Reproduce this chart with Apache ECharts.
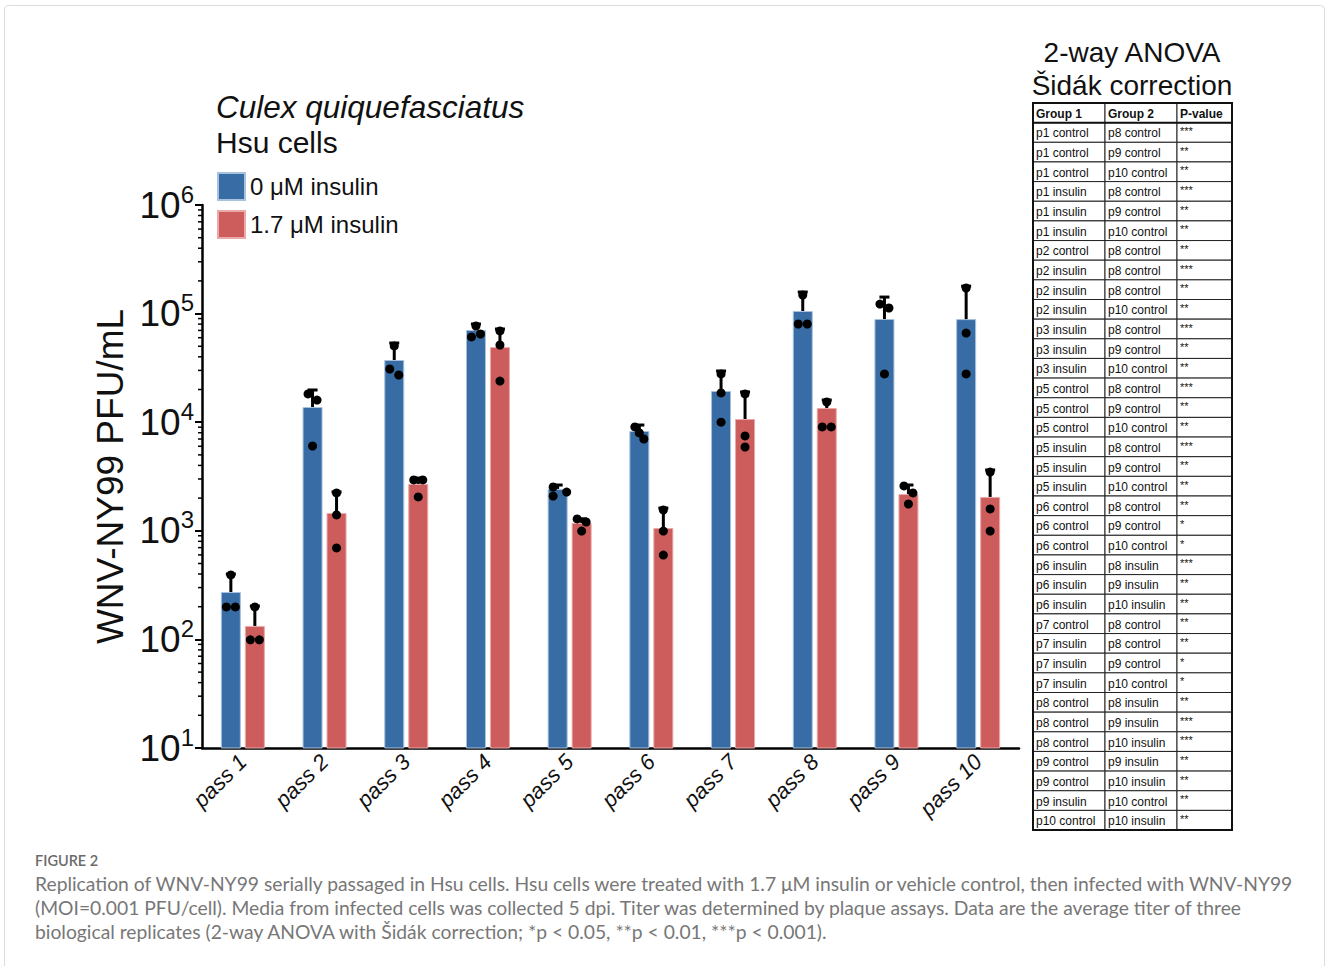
<!DOCTYPE html>
<html>
<head>
<meta charset="utf-8">
<title>WNV-NY99 serial passage in Hsu cells</title>
<script src="https://cdn.jsdelivr.net/npm/echarts@6/dist/echarts.min.js"></script>
<style>
html, body { margin: 0; padding: 0; background: #fff; }
#chart { width: 1328px; height: 966px; }
</style>
</head>
<body>
<div id="chart"></div>
<script>
'use strict'

// values (PFU/mL)
const passes = ['pass 1', 'pass 2', 'pass 3', 'pass 4', 'pass 5', 'pass 6', 'pass 7', 'pass 8', 'pass 9', 'pass 10'];
const controlMean = [273, 13800, 37400, 70600, 2430, 8300, 19400, 105700, 89100, 89000];
const insulinMean = [133, 1460, 2700, 49200, 1180, 1060, 10700, 13500, 2180, 2050];
const controlErrTop = [400, 19800, 53600, 80200, 2640, 9420, 29600, 158000, 142000, 179000];
const insulinErrTop = [203, 2280, 3060, 72100, 1290, 1620, 19000, 16000, 2640, 3630];
const controlReps = [
  [392, 199, 199], [18200, 16000, 6040], [50400, 30900, 27200], [76900, 61000, 64900],
  [2530, 2090, 2275], [9040, 7960, 7000], [27800, 18600, 10000], [148000, 80200, 80200],
  [122400, 112600, 27800], [172000, 66200, 27800]
];
const insulinReps = [
  [199, 99, 99], [2230, 1400, 695], [2940, 2940, 2050], [69200, 51400, 23900],
  [1285, 1205, 995], [1555, 995, 598], [18200, 7470, 5910], [15350, 9040, 9040],
  [2590, 2230, 1765], [3475, 1590, 995]
];
const yMin = 10;
const yMax = 1000000;

// Šidák table
const group1 = [
  'p1 control', 'p1 control', 'p1 control', 'p1 insulin', 'p1 insulin', 'p1 insulin',
  'p2 control', 'p2 insulin', 'p2 insulin', 'p2 insulin', 'p3 insulin', 'p3 insulin',
  'p3 insulin', 'p5 control', 'p5 control', 'p5 control', 'p5 insulin', 'p5 insulin',
  'p5 insulin', 'p6 control', 'p6 control', 'p6 control', 'p6 insulin', 'p6 insulin',
  'p6 insulin', 'p7 control', 'p7 insulin', 'p7 insulin', 'p7 insulin', 'p8 control',
  'p8 control', 'p8 control', 'p9 control', 'p9 control', 'p9 insulin', 'p10 control'
];
const group2 = [
  'p8 control', 'p9 control', 'p10 control', 'p8 control', 'p9 control', 'p10 control',
  'p8 control', 'p8 control', 'p8 control', 'p10 control', 'p8 control', 'p9 control',
  'p10 control', 'p8 control', 'p9 control', 'p10 control', 'p8 control', 'p9 control',
  'p10 control', 'p8 control', 'p9 control', 'p10 control', 'p8 insulin', 'p9 insulin',
  'p10 insulin', 'p8 control', 'p8 control', 'p9 control', 'p10 control', 'p8 insulin',
  'p9 insulin', 'p10 insulin', 'p9 insulin', 'p10 insulin', 'p10 control', 'p10 insulin'
];
const pValues = [
  '***', '**', '**', '***', '**', '**', '**', '***', '**', '**', '***', '**',
  '**', '***', '**', '**', '***', '**', '**', '**', '*', '*', '***', '**',
  '**', '**', '**', '*', '*', '**', '***', '***', '**', '**', '**', '**'
];

const captionLines = [
  'Replication of WNV-NY99 serially passaged in Hsu cells. Hsu cells were treated with 1.7 μM insulin or vehicle control, then infected with WNV-NY99',
  '(MOI=0.001 PFU/cell). Media from infected cells was collected 5 dpi. Titer was determined by plaque assays. Data are the average titer of three',
  'biological replicates (2-way ANOVA with Šidák correction; *p < 0.05, **p < 0.01, ***p < 0.001).'
];

const BLUE = '#386ca4';
const RED = '#cd5c5c';
const FONT = 'Liberation Sans';
const BAR_W = 20;
const BAR_OFF = 12;

function replicateRenderer(offset) {
  return function (params, api) {
    const i = api.value(0);
    const base = api.coord([i, api.value(1)]);
    const x = base[0] + offset;
    const yTop = api.coord([i, api.value(2)])[1];
    const children = [
      {type: 'line', shape: {x1: x, y1: base[1], x2: x, y2: yTop}, style: {stroke: '#000', lineWidth: 3}},
      {type: 'line', shape: {x1: x - 5, y1: yTop, x2: x + 5, y2: yTop}, style: {stroke: '#000', lineWidth: 3}}
    ];
    const ys = [3, 4, 5].map(k => api.coord([i, api.value(k)])[1]);
    ys.forEach((y, k) => {
      const near = [0, 1, 2].filter(j => Math.abs(ys[j] - y) < 8);
      const pos = near.indexOf(k);
      const dx = near.length === 1 ? 0 : (pos - (near.length - 1) / 2) * 9;
      children.push({type: 'circle', shape: {cx: x + dx, cy: y, r: 4.5}, style: {fill: '#000'}});
    });
    return {type: 'group', children: children};
  };
}

// minor ticks for the log axis (2..9 in every decade)
const minorTicks = [];
for (let d = yMin; d < yMax; d *= 10) {
  for (let m = 2; m <= 9; m++) minorTicks.push([0, m * d]);
}

function buildTable() {
  const cols = [1033, 1105, 1177, 1232];
  const top = 103;
  const rowH = 19.65;
  const els = [];
  const rows = [['Group 1', 'Group 2', 'P-value']];
  group1.forEach((g, i) => rows.push([g, group2[i], pValues[i]]));
  rows.forEach((row, r) => {
    const y = top + r * rowH;
    row.forEach((txt, c) => {
      els.push({
        type: 'rect',
        shape: {x: cols[c], y: y, width: cols[c + 1] - cols[c], height: rowH},
        style: {fill: '#fff', stroke: '#222', lineWidth: 1}
      });
      const star = r > 0 && c === 2;
      els.push({
        type: 'text',
        x: cols[c] + 3,
        y: star ? y + 3 : y + rowH / 2 + 1,
        style: {
          text: txt,
          fill: '#111',
          font: (r === 0 ? 'bold ' : '') + (star ? '11px ' : '12px ') + FONT,
          verticalAlign: star ? 'top' : 'middle'
        }
      });
    });
  });
  els.push({
    type: 'rect',
    shape: {x: cols[0], y: top, width: cols[3] - cols[0], height: rows.length * rowH},
    style: {fill: 'none', stroke: '#111', lineWidth: 2}
  });
  els.push({
    type: 'rect',
    shape: {x: cols[0], y: top, width: cols[3] - cols[0], height: rowH},
    style: {fill: 'none', stroke: '#111', lineWidth: 2}
  });
  return els;
}

const graphics = [
  {
    type: 'rect', z: -10,
    shape: {x: 4.5, y: 5.5, width: 1320, height: 980, r: 4},
    style: {fill: 'none', stroke: '#dcdcdc', lineWidth: 1}
  },
  {type: 'text', x: 1132, y: 52, style: {text: '2-way ANOVA', font: '28px ' + FONT, fill: '#111', align: 'center', verticalAlign: 'middle'}},
  {type: 'text', x: 1132, y: 85, style: {text: 'Šidák correction', font: '28px ' + FONT, fill: '#111', align: 'center', verticalAlign: 'middle'}},
  {type: 'text', x: 35, y: 860, style: {text: 'FIGURE 2', font: '600 14.5px Lato', fill: '#6b6b6b', verticalAlign: 'middle'}}
].concat(buildTable());

captionLines.forEach((line, i) => {
  graphics.push({
    type: 'text', x: 35, y: 883 + i * 24,
    style: {text: line, font: '19.3px Lato', fill: '#777', verticalAlign: 'middle'}
  });
});

const chart = echarts.init(document.getElementById('chart'), null, {renderer: 'svg'});

chart.setOption({
  animation: false,
  backgroundColor: '#fff',
  textStyle: {fontFamily: FONT},
  title: {
    text: 'Culex quiquefasciatus',
    subtext: 'Hsu cells',
    left: 211,
    top: 86,
    itemGap: 4,
    textStyle: {fontFamily: FONT, fontStyle: 'italic', fontWeight: 'normal', fontSize: 31.5, color: '#111'},
    subtextStyle: {fontFamily: FONT, fontSize: 30, color: '#111'}
  },
  legend: {
    orient: 'vertical',
    left: 212,
    top: 167,
    itemWidth: 27,
    itemHeight: 27,
    itemGap: 9,
    icon: 'rect',
    textStyle: {fontFamily: FONT, fontSize: 24, color: '#111'},
    data: ['0 μM insulin', '1.7 μM insulin']
  },
  grid: {left: 202, right: 309, top: 205, bottom: 218},
  xAxis: {
    type: 'category',
    data: passes,
    axisLine: {lineStyle: {color: '#000', width: 2.5}},
    axisTick: {alignWithLabel: true, length: 7, lineStyle: {color: '#000', width: 2}},
    axisLabel: {
      interval: 0, rotate: 45, margin: 10,
      fontSize: 22, fontStyle: 'italic', color: '#111', fontFamily: FONT
    }
  },
  yAxis: {
    type: 'log',
    logBase: 10,
    min: yMin,
    max: yMax,
    name: 'WNV-NY99 PFU/mL',
    nameLocation: 'middle',
    nameGap: 68,
    nameRotate: 90,
    nameTextStyle: {fontFamily: FONT, fontSize: 37, color: '#111'},
    splitLine: {show: false},
    axisLine: {show: true, lineStyle: {color: '#000', width: 2.5}},
    axisTick: {show: true, length: 7, lineStyle: {color: '#000', width: 2}},
    axisLabel: {
      margin: 8,
      color: '#111',
      formatter: v => '{b|10}{s|' + Math.round(Math.log10(v)) + '}',
      rich: {
        b: {fontFamily: FONT, fontSize: 37, color: '#111'},
        s: {fontFamily: FONT, fontSize: 24, color: '#111', padding: [0, 0, 22, 0]}
      }
    }
  },
  series: [
    {
      name: '0 μM insulin',
      type: 'bar',
      barWidth: BAR_W,
      barGap: '20%',
      itemStyle: {color: BLUE, borderColor: '#a8c1de', borderWidth: 1},
      data: controlMean
    },
    {
      name: '1.7 μM insulin',
      type: 'bar',
      barWidth: BAR_W,
      itemStyle: {color: RED, borderColor: '#eba9a9', borderWidth: 1},
      data: insulinMean
    },
    {
      type: 'custom',
      renderItem: replicateRenderer(-BAR_OFF),
      encode: {x: 0, y: 1},
      z: 5,
      data: controlMean.map((m, i) => [i, m, controlErrTop[i]].concat(controlReps[i]))
    },
    {
      type: 'custom',
      renderItem: replicateRenderer(BAR_OFF),
      encode: {x: 0, y: 1},
      z: 5,
      data: insulinMean.map((m, i) => [i, m, insulinErrTop[i]].concat(insulinReps[i]))
    },
    {
      type: 'custom',
      encode: {x: 0, y: 1},
      renderItem: (params, api) => {
        const y = api.coord([0, api.value(1)])[1];
        const x = params.coordSys.x;
        return {type: 'line', shape: {x1: x - 4, y1: y, x2: x, y2: y}, style: {stroke: '#000', lineWidth: 1.5}};
      },
      data: minorTicks
    }
  ],
  graphic: graphics
});
</script>
</body>
</html>
